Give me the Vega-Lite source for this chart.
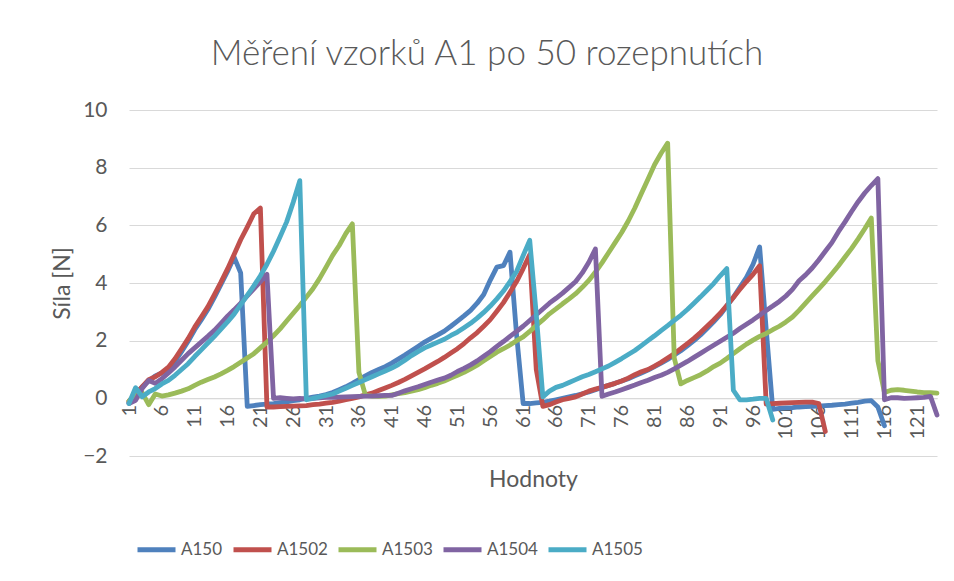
{
"$schema": "https://vega.github.io/schema/vega-lite/v6.json",
"width": 808, "height": 346,
"autosize": {"type": "none"},
"padding": {"left": 129, "top": 110, "right": 17, "bottom": 125},
"background": "white",
"title": {"text": "Měření vzorků A1 po 50 rozepnutích", "fontSize": 35, "font": "Lato", "fontWeight": 300, "color": "#595959", "anchor": "middle", "frame": "group", "dx": -46, "offset": -1, "baseline": "alphabetic"},
"config": {"view": {"stroke": null}, "font": "Lato"},
"datasets": {"d": [
{"s":"A150","i":1,"v":-0.15},{"s":"A150","i":2,"v":0.15},{"s":"A150","i":3,"v":0.4},{"s":"A150","i":4,"v":0.6},{"s":"A150","i":5,"v":0.78},{"s":"A150","i":6,"v":0.88},{"s":"A150","i":7,"v":1.02},{"s":"A150","i":8,"v":1.28},{"s":"A150","i":9,"v":1.62},{"s":"A150","i":10,"v":1.98},{"s":"A150","i":11,"v":2.38},{"s":"A150","i":12,"v":2.72},{"s":"A150","i":13,"v":3.08},{"s":"A150","i":14,"v":3.5},{"s":"A150","i":15,"v":3.95},{"s":"A150","i":16,"v":4.4},{"s":"A150","i":17,"v":4.9},{"s":"A150","i":18,"v":4.35},{"s":"A150","i":19,"v":-0.28},{"s":"A150","i":20,"v":-0.25},{"s":"A150","i":21,"v":-0.22},{"s":"A150","i":22,"v":-0.2},{"s":"A150","i":23,"v":-0.18},{"s":"A150","i":24,"v":-0.15},{"s":"A150","i":25,"v":-0.12},{"s":"A150","i":26,"v":-0.08},{"s":"A150","i":27,"v":-0.05},{"s":"A150","i":28,"v":0.0},{"s":"A150","i":29,"v":0.04},{"s":"A150","i":30,"v":0.08},{"s":"A150","i":31,"v":0.13},{"s":"A150","i":32,"v":0.2},{"s":"A150","i":33,"v":0.3},{"s":"A150","i":34,"v":0.4},{"s":"A150","i":35,"v":0.52},{"s":"A150","i":36,"v":0.65},{"s":"A150","i":37,"v":0.78},{"s":"A150","i":38,"v":0.9},{"s":"A150","i":39,"v":1.0},{"s":"A150","i":40,"v":1.1},{"s":"A150","i":41,"v":1.22},{"s":"A150","i":42,"v":1.36},{"s":"A150","i":43,"v":1.5},{"s":"A150","i":44,"v":1.65},{"s":"A150","i":45,"v":1.8},{"s":"A150","i":46,"v":1.95},{"s":"A150","i":47,"v":2.08},{"s":"A150","i":48,"v":2.2},{"s":"A150","i":49,"v":2.33},{"s":"A150","i":50,"v":2.5},{"s":"A150","i":51,"v":2.68},{"s":"A150","i":52,"v":2.86},{"s":"A150","i":53,"v":3.05},{"s":"A150","i":54,"v":3.3},{"s":"A150","i":55,"v":3.6},{"s":"A150","i":56,"v":4.1},{"s":"A150","i":57,"v":4.55},{"s":"A150","i":58,"v":4.6},{"s":"A150","i":59,"v":5.07},{"s":"A150","i":60,"v":2.2},{"s":"A150","i":61,"v":-0.18},{"s":"A150","i":62,"v":-0.18},{"s":"A150","i":63,"v":-0.16},{"s":"A150","i":64,"v":-0.14},{"s":"A150","i":65,"v":-0.1},{"s":"A150","i":66,"v":-0.05},{"s":"A150","i":67,"v":0.0},{"s":"A150","i":68,"v":0.05},{"s":"A150","i":69,"v":0.1},{"s":"A150","i":70,"v":0.16},{"s":"A150","i":71,"v":0.22},{"s":"A150","i":72,"v":0.3},{"s":"A150","i":73,"v":0.38},{"s":"A150","i":74,"v":0.45},{"s":"A150","i":75,"v":0.52},{"s":"A150","i":76,"v":0.6},{"s":"A150","i":77,"v":0.68},{"s":"A150","i":78,"v":0.78},{"s":"A150","i":79,"v":0.88},{"s":"A150","i":80,"v":0.98},{"s":"A150","i":81,"v":1.1},{"s":"A150","i":82,"v":1.22},{"s":"A150","i":83,"v":1.35},{"s":"A150","i":84,"v":1.5},{"s":"A150","i":85,"v":1.65},{"s":"A150","i":86,"v":1.82},{"s":"A150","i":87,"v":2.0},{"s":"A150","i":88,"v":2.2},{"s":"A150","i":89,"v":2.42},{"s":"A150","i":90,"v":2.65},{"s":"A150","i":91,"v":2.9},{"s":"A150","i":92,"v":3.2},{"s":"A150","i":93,"v":3.5},{"s":"A150","i":94,"v":3.85},{"s":"A150","i":95,"v":4.2},{"s":"A150","i":96,"v":4.65},{"s":"A150","i":97,"v":5.25},{"s":"A150","i":98,"v":2.4},{"s":"A150","i":99,"v":-0.38},{"s":"A150","i":100,"v":-0.35},{"s":"A150","i":101,"v":-0.33},{"s":"A150","i":102,"v":-0.32},{"s":"A150","i":103,"v":-0.3},{"s":"A150","i":104,"v":-0.29},{"s":"A150","i":105,"v":-0.28},{"s":"A150","i":106,"v":-0.27},{"s":"A150","i":107,"v":-0.25},{"s":"A150","i":108,"v":-0.24},{"s":"A150","i":109,"v":-0.22},{"s":"A150","i":110,"v":-0.2},{"s":"A150","i":111,"v":-0.17},{"s":"A150","i":112,"v":-0.14},{"s":"A150","i":113,"v":-0.1},{"s":"A150","i":114,"v":-0.08},{"s":"A150","i":115,"v":-0.3},{"s":"A150","i":116,"v":-0.95},
{"s":"A1502","i":1,"v":-0.1},{"s":"A1502","i":2,"v":0.15},{"s":"A1502","i":3,"v":0.4},{"s":"A1502","i":4,"v":0.65},{"s":"A1502","i":5,"v":0.75},{"s":"A1502","i":6,"v":0.9},{"s":"A1502","i":7,"v":1.08},{"s":"A1502","i":8,"v":1.37},{"s":"A1502","i":9,"v":1.72},{"s":"A1502","i":10,"v":2.07},{"s":"A1502","i":11,"v":2.47},{"s":"A1502","i":12,"v":2.82},{"s":"A1502","i":13,"v":3.17},{"s":"A1502","i":14,"v":3.6},{"s":"A1502","i":15,"v":4.03},{"s":"A1502","i":16,"v":4.49},{"s":"A1502","i":17,"v":4.99},{"s":"A1502","i":18,"v":5.5},{"s":"A1502","i":19,"v":5.94},{"s":"A1502","i":20,"v":6.4},{"s":"A1502","i":21,"v":6.6},{"s":"A1502","i":22,"v":-0.3},{"s":"A1502","i":23,"v":-0.3},{"s":"A1502","i":24,"v":-0.29},{"s":"A1502","i":25,"v":-0.28},{"s":"A1502","i":26,"v":-0.27},{"s":"A1502","i":27,"v":-0.26},{"s":"A1502","i":28,"v":-0.25},{"s":"A1502","i":29,"v":-0.22},{"s":"A1502","i":30,"v":-0.2},{"s":"A1502","i":31,"v":-0.17},{"s":"A1502","i":32,"v":-0.14},{"s":"A1502","i":33,"v":-0.1},{"s":"A1502","i":34,"v":-0.05},{"s":"A1502","i":35,"v":0.0},{"s":"A1502","i":36,"v":0.05},{"s":"A1502","i":37,"v":0.12},{"s":"A1502","i":38,"v":0.18},{"s":"A1502","i":39,"v":0.27},{"s":"A1502","i":40,"v":0.36},{"s":"A1502","i":41,"v":0.45},{"s":"A1502","i":42,"v":0.55},{"s":"A1502","i":43,"v":0.66},{"s":"A1502","i":44,"v":0.78},{"s":"A1502","i":45,"v":0.9},{"s":"A1502","i":46,"v":1.02},{"s":"A1502","i":47,"v":1.15},{"s":"A1502","i":48,"v":1.28},{"s":"A1502","i":49,"v":1.42},{"s":"A1502","i":50,"v":1.57},{"s":"A1502","i":51,"v":1.72},{"s":"A1502","i":52,"v":1.9},{"s":"A1502","i":53,"v":2.1},{"s":"A1502","i":54,"v":2.28},{"s":"A1502","i":55,"v":2.5},{"s":"A1502","i":56,"v":2.73},{"s":"A1502","i":57,"v":3.02},{"s":"A1502","i":58,"v":3.32},{"s":"A1502","i":59,"v":3.68},{"s":"A1502","i":60,"v":4.05},{"s":"A1502","i":61,"v":4.5},{"s":"A1502","i":62,"v":4.98},{"s":"A1502","i":63,"v":1.0},{"s":"A1502","i":64,"v":-0.28},{"s":"A1502","i":65,"v":-0.22},{"s":"A1502","i":66,"v":-0.13},{"s":"A1502","i":67,"v":-0.05},{"s":"A1502","i":68,"v":0.0},{"s":"A1502","i":69,"v":0.05},{"s":"A1502","i":70,"v":0.15},{"s":"A1502","i":71,"v":0.25},{"s":"A1502","i":72,"v":0.32},{"s":"A1502","i":73,"v":0.38},{"s":"A1502","i":74,"v":0.45},{"s":"A1502","i":75,"v":0.52},{"s":"A1502","i":76,"v":0.6},{"s":"A1502","i":77,"v":0.7},{"s":"A1502","i":78,"v":0.82},{"s":"A1502","i":79,"v":0.92},{"s":"A1502","i":80,"v":1.0},{"s":"A1502","i":81,"v":1.12},{"s":"A1502","i":82,"v":1.25},{"s":"A1502","i":83,"v":1.4},{"s":"A1502","i":84,"v":1.55},{"s":"A1502","i":85,"v":1.72},{"s":"A1502","i":86,"v":1.9},{"s":"A1502","i":87,"v":2.08},{"s":"A1502","i":88,"v":2.28},{"s":"A1502","i":89,"v":2.5},{"s":"A1502","i":90,"v":2.72},{"s":"A1502","i":91,"v":2.95},{"s":"A1502","i":92,"v":3.22},{"s":"A1502","i":93,"v":3.5},{"s":"A1502","i":94,"v":3.78},{"s":"A1502","i":95,"v":4.05},{"s":"A1502","i":96,"v":4.3},{"s":"A1502","i":97,"v":4.6},{"s":"A1502","i":98,"v":-0.2},{"s":"A1502","i":99,"v":-0.18},{"s":"A1502","i":100,"v":-0.17},{"s":"A1502","i":101,"v":-0.16},{"s":"A1502","i":102,"v":-0.15},{"s":"A1502","i":103,"v":-0.14},{"s":"A1502","i":104,"v":-0.13},{"s":"A1502","i":105,"v":-0.13},{"s":"A1502","i":106,"v":-0.18},{"s":"A1502","i":107,"v":-1.15},
{"s":"A1503","i":1,"v":-0.1},{"s":"A1503","i":2,"v":0.15},{"s":"A1503","i":3,"v":0.2},{"s":"A1503","i":4,"v":-0.22},{"s":"A1503","i":5,"v":0.15},{"s":"A1503","i":6,"v":0.08},{"s":"A1503","i":7,"v":0.12},{"s":"A1503","i":8,"v":0.18},{"s":"A1503","i":9,"v":0.25},{"s":"A1503","i":10,"v":0.33},{"s":"A1503","i":11,"v":0.45},{"s":"A1503","i":12,"v":0.56},{"s":"A1503","i":13,"v":0.65},{"s":"A1503","i":14,"v":0.74},{"s":"A1503","i":15,"v":0.85},{"s":"A1503","i":16,"v":0.97},{"s":"A1503","i":17,"v":1.1},{"s":"A1503","i":18,"v":1.25},{"s":"A1503","i":19,"v":1.4},{"s":"A1503","i":20,"v":1.55},{"s":"A1503","i":21,"v":1.75},{"s":"A1503","i":22,"v":1.95},{"s":"A1503","i":23,"v":2.17},{"s":"A1503","i":24,"v":2.41},{"s":"A1503","i":25,"v":2.68},{"s":"A1503","i":26,"v":2.95},{"s":"A1503","i":27,"v":3.22},{"s":"A1503","i":28,"v":3.51},{"s":"A1503","i":29,"v":3.8},{"s":"A1503","i":30,"v":4.15},{"s":"A1503","i":31,"v":4.55},{"s":"A1503","i":32,"v":4.96},{"s":"A1503","i":33,"v":5.3},{"s":"A1503","i":34,"v":5.71},{"s":"A1503","i":35,"v":6.05},{"s":"A1503","i":36,"v":0.9},{"s":"A1503","i":37,"v":0.1},{"s":"A1503","i":38,"v":0.08},{"s":"A1503","i":39,"v":0.07},{"s":"A1503","i":40,"v":0.08},{"s":"A1503","i":41,"v":0.12},{"s":"A1503","i":42,"v":0.16},{"s":"A1503","i":43,"v":0.2},{"s":"A1503","i":44,"v":0.25},{"s":"A1503","i":45,"v":0.3},{"s":"A1503","i":46,"v":0.37},{"s":"A1503","i":47,"v":0.45},{"s":"A1503","i":48,"v":0.52},{"s":"A1503","i":49,"v":0.6},{"s":"A1503","i":50,"v":0.7},{"s":"A1503","i":51,"v":0.8},{"s":"A1503","i":52,"v":0.9},{"s":"A1503","i":53,"v":1.02},{"s":"A1503","i":54,"v":1.15},{"s":"A1503","i":55,"v":1.3},{"s":"A1503","i":56,"v":1.45},{"s":"A1503","i":57,"v":1.6},{"s":"A1503","i":58,"v":1.72},{"s":"A1503","i":59,"v":1.85},{"s":"A1503","i":60,"v":2.0},{"s":"A1503","i":61,"v":2.13},{"s":"A1503","i":62,"v":2.32},{"s":"A1503","i":63,"v":2.53},{"s":"A1503","i":64,"v":2.72},{"s":"A1503","i":65,"v":2.93},{"s":"A1503","i":66,"v":3.1},{"s":"A1503","i":67,"v":3.28},{"s":"A1503","i":68,"v":3.45},{"s":"A1503","i":69,"v":3.63},{"s":"A1503","i":70,"v":3.85},{"s":"A1503","i":71,"v":4.09},{"s":"A1503","i":72,"v":4.38},{"s":"A1503","i":73,"v":4.7},{"s":"A1503","i":74,"v":5.05},{"s":"A1503","i":75,"v":5.4},{"s":"A1503","i":76,"v":5.75},{"s":"A1503","i":77,"v":6.15},{"s":"A1503","i":78,"v":6.6},{"s":"A1503","i":79,"v":7.1},{"s":"A1503","i":80,"v":7.6},{"s":"A1503","i":81,"v":8.1},{"s":"A1503","i":82,"v":8.5},{"s":"A1503","i":83,"v":8.85},{"s":"A1503","i":84,"v":1.4},{"s":"A1503","i":85,"v":0.5},{"s":"A1503","i":86,"v":0.62},{"s":"A1503","i":87,"v":0.72},{"s":"A1503","i":88,"v":0.82},{"s":"A1503","i":89,"v":0.95},{"s":"A1503","i":90,"v":1.1},{"s":"A1503","i":91,"v":1.22},{"s":"A1503","i":92,"v":1.38},{"s":"A1503","i":93,"v":1.55},{"s":"A1503","i":94,"v":1.72},{"s":"A1503","i":95,"v":1.88},{"s":"A1503","i":96,"v":2.02},{"s":"A1503","i":97,"v":2.15},{"s":"A1503","i":98,"v":2.25},{"s":"A1503","i":99,"v":2.38},{"s":"A1503","i":100,"v":2.5},{"s":"A1503","i":101,"v":2.65},{"s":"A1503","i":102,"v":2.82},{"s":"A1503","i":103,"v":3.05},{"s":"A1503","i":104,"v":3.3},{"s":"A1503","i":105,"v":3.55},{"s":"A1503","i":106,"v":3.8},{"s":"A1503","i":107,"v":4.05},{"s":"A1503","i":108,"v":4.32},{"s":"A1503","i":109,"v":4.6},{"s":"A1503","i":110,"v":4.9},{"s":"A1503","i":111,"v":5.2},{"s":"A1503","i":112,"v":5.53},{"s":"A1503","i":113,"v":5.88},{"s":"A1503","i":114,"v":6.25},{"s":"A1503","i":115,"v":1.3},{"s":"A1503","i":116,"v":0.2},{"s":"A1503","i":117,"v":0.28},{"s":"A1503","i":118,"v":0.3},{"s":"A1503","i":119,"v":0.28},{"s":"A1503","i":120,"v":0.25},{"s":"A1503","i":121,"v":0.22},{"s":"A1503","i":122,"v":0.2},{"s":"A1503","i":123,"v":0.2},{"s":"A1503","i":124,"v":0.18},
{"s":"A1504","i":1,"v":-0.18},{"s":"A1504","i":2,"v":-0.07},{"s":"A1504","i":3,"v":0.34},{"s":"A1504","i":4,"v":0.62},{"s":"A1504","i":5,"v":0.52},{"s":"A1504","i":6,"v":0.68},{"s":"A1504","i":7,"v":0.88},{"s":"A1504","i":8,"v":1.09},{"s":"A1504","i":9,"v":1.32},{"s":"A1504","i":10,"v":1.55},{"s":"A1504","i":11,"v":1.75},{"s":"A1504","i":12,"v":1.95},{"s":"A1504","i":13,"v":2.15},{"s":"A1504","i":14,"v":2.36},{"s":"A1504","i":15,"v":2.6},{"s":"A1504","i":16,"v":2.85},{"s":"A1504","i":17,"v":3.07},{"s":"A1504","i":18,"v":3.3},{"s":"A1504","i":19,"v":3.55},{"s":"A1504","i":20,"v":3.8},{"s":"A1504","i":21,"v":4.05},{"s":"A1504","i":22,"v":4.3},{"s":"A1504","i":23,"v":0.0},{"s":"A1504","i":24,"v":0.02},{"s":"A1504","i":25,"v":0.0},{"s":"A1504","i":26,"v":-0.02},{"s":"A1504","i":27,"v":0.0},{"s":"A1504","i":28,"v":-0.02},{"s":"A1504","i":29,"v":0.0},{"s":"A1504","i":30,"v":0.02},{"s":"A1504","i":31,"v":0.03},{"s":"A1504","i":32,"v":0.03},{"s":"A1504","i":33,"v":0.04},{"s":"A1504","i":34,"v":0.05},{"s":"A1504","i":35,"v":0.06},{"s":"A1504","i":36,"v":0.07},{"s":"A1504","i":37,"v":0.08},{"s":"A1504","i":38,"v":0.08},{"s":"A1504","i":39,"v":0.09},{"s":"A1504","i":40,"v":0.1},{"s":"A1504","i":41,"v":0.1},{"s":"A1504","i":42,"v":0.18},{"s":"A1504","i":43,"v":0.26},{"s":"A1504","i":44,"v":0.33},{"s":"A1504","i":45,"v":0.4},{"s":"A1504","i":46,"v":0.48},{"s":"A1504","i":47,"v":0.56},{"s":"A1504","i":48,"v":0.63},{"s":"A1504","i":49,"v":0.7},{"s":"A1504","i":50,"v":0.8},{"s":"A1504","i":51,"v":0.93},{"s":"A1504","i":52,"v":1.04},{"s":"A1504","i":53,"v":1.16},{"s":"A1504","i":54,"v":1.3},{"s":"A1504","i":55,"v":1.46},{"s":"A1504","i":56,"v":1.62},{"s":"A1504","i":57,"v":1.8},{"s":"A1504","i":58,"v":1.97},{"s":"A1504","i":59,"v":2.15},{"s":"A1504","i":60,"v":2.32},{"s":"A1504","i":61,"v":2.5},{"s":"A1504","i":62,"v":2.7},{"s":"A1504","i":63,"v":2.9},{"s":"A1504","i":64,"v":3.1},{"s":"A1504","i":65,"v":3.3},{"s":"A1504","i":66,"v":3.47},{"s":"A1504","i":67,"v":3.65},{"s":"A1504","i":68,"v":3.85},{"s":"A1504","i":69,"v":4.05},{"s":"A1504","i":70,"v":4.35},{"s":"A1504","i":71,"v":4.72},{"s":"A1504","i":72,"v":5.18},{"s":"A1504","i":73,"v":0.07},{"s":"A1504","i":74,"v":0.15},{"s":"A1504","i":75,"v":0.22},{"s":"A1504","i":76,"v":0.3},{"s":"A1504","i":77,"v":0.38},{"s":"A1504","i":78,"v":0.46},{"s":"A1504","i":79,"v":0.55},{"s":"A1504","i":80,"v":0.63},{"s":"A1504","i":81,"v":0.72},{"s":"A1504","i":82,"v":0.8},{"s":"A1504","i":83,"v":0.9},{"s":"A1504","i":84,"v":1.02},{"s":"A1504","i":85,"v":1.15},{"s":"A1504","i":86,"v":1.28},{"s":"A1504","i":87,"v":1.42},{"s":"A1504","i":88,"v":1.56},{"s":"A1504","i":89,"v":1.7},{"s":"A1504","i":90,"v":1.84},{"s":"A1504","i":91,"v":1.98},{"s":"A1504","i":92,"v":2.12},{"s":"A1504","i":93,"v":2.26},{"s":"A1504","i":94,"v":2.42},{"s":"A1504","i":95,"v":2.57},{"s":"A1504","i":96,"v":2.72},{"s":"A1504","i":97,"v":2.88},{"s":"A1504","i":98,"v":3.05},{"s":"A1504","i":99,"v":3.2},{"s":"A1504","i":100,"v":3.36},{"s":"A1504","i":101,"v":3.55},{"s":"A1504","i":102,"v":3.78},{"s":"A1504","i":103,"v":4.08},{"s":"A1504","i":104,"v":4.28},{"s":"A1504","i":105,"v":4.52},{"s":"A1504","i":106,"v":4.8},{"s":"A1504","i":107,"v":5.1},{"s":"A1504","i":108,"v":5.4},{"s":"A1504","i":109,"v":5.78},{"s":"A1504","i":110,"v":6.12},{"s":"A1504","i":111,"v":6.48},{"s":"A1504","i":112,"v":6.82},{"s":"A1504","i":113,"v":7.12},{"s":"A1504","i":114,"v":7.38},{"s":"A1504","i":115,"v":7.62},{"s":"A1504","i":116,"v":-0.05},{"s":"A1504","i":117,"v":0.02},{"s":"A1504","i":118,"v":0.02},{"s":"A1504","i":119,"v":0.0},{"s":"A1504","i":120,"v":0.01},{"s":"A1504","i":121,"v":0.02},{"s":"A1504","i":122,"v":0.03},{"s":"A1504","i":123,"v":0.07},{"s":"A1504","i":124,"v":-0.58},
{"s":"A1505","i":1,"v":-0.18},{"s":"A1505","i":2,"v":0.37},{"s":"A1505","i":3,"v":0.05},{"s":"A1505","i":4,"v":0.22},{"s":"A1505","i":5,"v":0.34},{"s":"A1505","i":6,"v":0.5},{"s":"A1505","i":7,"v":0.62},{"s":"A1505","i":8,"v":0.8},{"s":"A1505","i":9,"v":1.0},{"s":"A1505","i":10,"v":1.2},{"s":"A1505","i":11,"v":1.45},{"s":"A1505","i":12,"v":1.68},{"s":"A1505","i":13,"v":1.92},{"s":"A1505","i":14,"v":2.15},{"s":"A1505","i":15,"v":2.4},{"s":"A1505","i":16,"v":2.65},{"s":"A1505","i":17,"v":2.92},{"s":"A1505","i":18,"v":3.25},{"s":"A1505","i":19,"v":3.57},{"s":"A1505","i":20,"v":3.9},{"s":"A1505","i":21,"v":4.25},{"s":"A1505","i":22,"v":4.65},{"s":"A1505","i":23,"v":5.1},{"s":"A1505","i":24,"v":5.6},{"s":"A1505","i":25,"v":6.12},{"s":"A1505","i":26,"v":6.8},{"s":"A1505","i":27,"v":7.55},{"s":"A1505","i":28,"v":-0.05},{"s":"A1505","i":29,"v":0.0},{"s":"A1505","i":30,"v":0.05},{"s":"A1505","i":31,"v":0.1},{"s":"A1505","i":32,"v":0.15},{"s":"A1505","i":33,"v":0.25},{"s":"A1505","i":34,"v":0.35},{"s":"A1505","i":35,"v":0.45},{"s":"A1505","i":36,"v":0.55},{"s":"A1505","i":37,"v":0.65},{"s":"A1505","i":38,"v":0.75},{"s":"A1505","i":39,"v":0.85},{"s":"A1505","i":40,"v":0.95},{"s":"A1505","i":41,"v":1.05},{"s":"A1505","i":42,"v":1.17},{"s":"A1505","i":43,"v":1.32},{"s":"A1505","i":44,"v":1.48},{"s":"A1505","i":45,"v":1.62},{"s":"A1505","i":46,"v":1.75},{"s":"A1505","i":47,"v":1.85},{"s":"A1505","i":48,"v":1.95},{"s":"A1505","i":49,"v":2.05},{"s":"A1505","i":50,"v":2.18},{"s":"A1505","i":51,"v":2.3},{"s":"A1505","i":52,"v":2.45},{"s":"A1505","i":53,"v":2.6},{"s":"A1505","i":54,"v":2.78},{"s":"A1505","i":55,"v":2.98},{"s":"A1505","i":56,"v":3.2},{"s":"A1505","i":57,"v":3.45},{"s":"A1505","i":58,"v":3.72},{"s":"A1505","i":59,"v":4.05},{"s":"A1505","i":60,"v":4.4},{"s":"A1505","i":61,"v":4.95},{"s":"A1505","i":62,"v":5.48},{"s":"A1505","i":63,"v":2.9},{"s":"A1505","i":64,"v":0.05},{"s":"A1505","i":65,"v":0.25},{"s":"A1505","i":66,"v":0.38},{"s":"A1505","i":67,"v":0.45},{"s":"A1505","i":68,"v":0.55},{"s":"A1505","i":69,"v":0.65},{"s":"A1505","i":70,"v":0.75},{"s":"A1505","i":71,"v":0.83},{"s":"A1505","i":72,"v":0.92},{"s":"A1505","i":73,"v":1.02},{"s":"A1505","i":74,"v":1.12},{"s":"A1505","i":75,"v":1.25},{"s":"A1505","i":76,"v":1.38},{"s":"A1505","i":77,"v":1.52},{"s":"A1505","i":78,"v":1.66},{"s":"A1505","i":79,"v":1.83},{"s":"A1505","i":80,"v":2.0},{"s":"A1505","i":81,"v":2.17},{"s":"A1505","i":82,"v":2.35},{"s":"A1505","i":83,"v":2.52},{"s":"A1505","i":84,"v":2.7},{"s":"A1505","i":85,"v":2.88},{"s":"A1505","i":86,"v":3.08},{"s":"A1505","i":87,"v":3.3},{"s":"A1505","i":88,"v":3.52},{"s":"A1505","i":89,"v":3.75},{"s":"A1505","i":90,"v":3.98},{"s":"A1505","i":91,"v":4.25},{"s":"A1505","i":92,"v":4.5},{"s":"A1505","i":93,"v":0.28},{"s":"A1505","i":94,"v":-0.05},{"s":"A1505","i":95,"v":-0.05},{"s":"A1505","i":96,"v":-0.03},{"s":"A1505","i":97,"v":0.0},{"s":"A1505","i":98,"v":0.0},{"s":"A1505","i":99,"v":-0.75}
]},
"data": {"name": "d"},
"mark": {"type": "line", "strokeWidth": 4.8, "strokeCap": "round", "strokeJoin": "round"},
"encoding": {
  "x": {"field": "i", "type": "quantitative",
        "scale": {"domain": [1, 124], "nice": false, "zero": false},
        "axis": {"values": [1,6,11,16,21,26,31,36,41,46,51,56,61,66,71,76,81,86,91,96,101,106,111,116,121],
                 "labelAngle": -90, "offset": -57.7, "domain": true, "domainColor": "#d9d9d9", "ticks": false, "grid": false,
                 "labelPadding": 6, "labelFontSize": 20, "labelColor": "#595959", "labelFlush": false, "labelOverlap": false,
                 "title": "Hodnoty", "titleFontSize": 23, "titleFontWeight": "normal", "titleColor": "#595959",
                 "titleY": 88, "titleBaseline": "alphabetic"}},
  "y": {"field": "v", "type": "quantitative",
        "scale": {"domain": [-2, 10], "nice": false},
        "axis": {"values": [-2,0,2,4,6,8,10], "grid": true, "gridColor": "#d9d9d9", "gridWidth": 1.2, "domain": false, "ticks": false,
                 "labelPadding": 22, "labelFontSize": 21, "labelColor": "#595959",
                 "title": "Síla [N]", "titleFontSize": 23, "titleFontWeight": "normal", "titleColor": "#595959",
                 "titleX": -67, "titleY": 173, "titleAngle": -90, "titleBaseline": "middle", "titleAlign": "center"}},
  "color": {"field": "s", "type": "nominal",
            "scale": {"domain": ["A150","A1502","A1503","A1504","A1505"], "range": ["#4F81BD","#C0504D","#9BBB59","#8064A2","#4BACC6"]},
            "legend": {"orient": "none", "legendX": 6, "legendY": 418, "direction": "horizontal", "title": null,
                       "symbolType": "stroke", "symbolStrokeWidth": 5, "symbolSize": 1444, "labelFontSize": 17, "labelColor": "#595959",
                       "columnPadding": 0, "labelOffset": 3}}
}
}
